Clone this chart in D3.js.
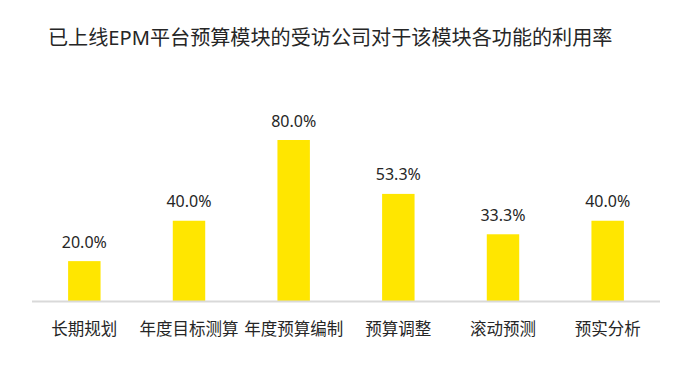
<!DOCTYPE html>
<html><head><meta charset="utf-8">
<script src="https://cdn.jsdelivr.net/npm/d3@7"></script>
<style>body{margin:0;background:#fff}</style>
</head><body>
<svg id="c" width="680" height="365"></svg>
<script>
const title = "已上线EPM平台预算模块的受访公司对于该模块各功能的利用率";
const categories = ["长期规划","年度目标测算","年度预算编制","预算调整","滚动预测","预实分析"];
const values = [20.0, 40.0, 80.0, 53.3, 33.3, 40.0];

const svg = d3.select("#c");
const font = "'Noto Sans','Noto Sans CJK SC',sans-serif";
const x = d3.scaleBand().domain(categories).range([32, 660]).paddingInner(0.69).paddingOuter(0.345);
const y = d3.scaleLinear().domain([0, 80]).range([301.5, 140]);

const t = svg.append("text").attr("x", 48).attr("y", 45).text(title)
  .attr("font-family", font).attr("font-size", 19).attr("fill", "#262626");
const w = t.node().getComputedTextLength();
if (w > 0) t.attr("font-size", Math.min(21, 19 * 565 / w));

svg.selectAll("rect.bar").data(values).join("rect").attr("class","bar")
  .attr("x", (d,i)=>x(categories[i])).attr("width", x.bandwidth())
  .attr("y", d=>y(d)).attr("height", d=>y(0)-y(d)).attr("fill", "#FFE600");

svg.append("line").attr("x1", 32).attr("x2", 660).attr("y1", 301.5).attr("y2", 301.5)
  .attr("stroke", "#d9d9d9").attr("stroke-width", 2);

svg.selectAll("text.val").data(values).join("text").attr("class","val")
  .attr("x", (d,i)=>x(categories[i])+x.bandwidth()/2).attr("y", d=>y(d)-13.5)
  .attr("text-anchor","middle").attr("font-family", font).attr("font-size", 16)
  .attr("fill", "#262626").text(d=>d.toFixed(1)+"%");

svg.selectAll("text.cat").data(categories).join("text").attr("class","cat")
  .attr("x", d=>x(d)+x.bandwidth()/2).attr("y", 334.5)
  .attr("text-anchor","middle").attr("font-family", font).attr("font-size", 16.5)
  .attr("fill", "#262626").text(d=>d);
</script>
</body></html>
